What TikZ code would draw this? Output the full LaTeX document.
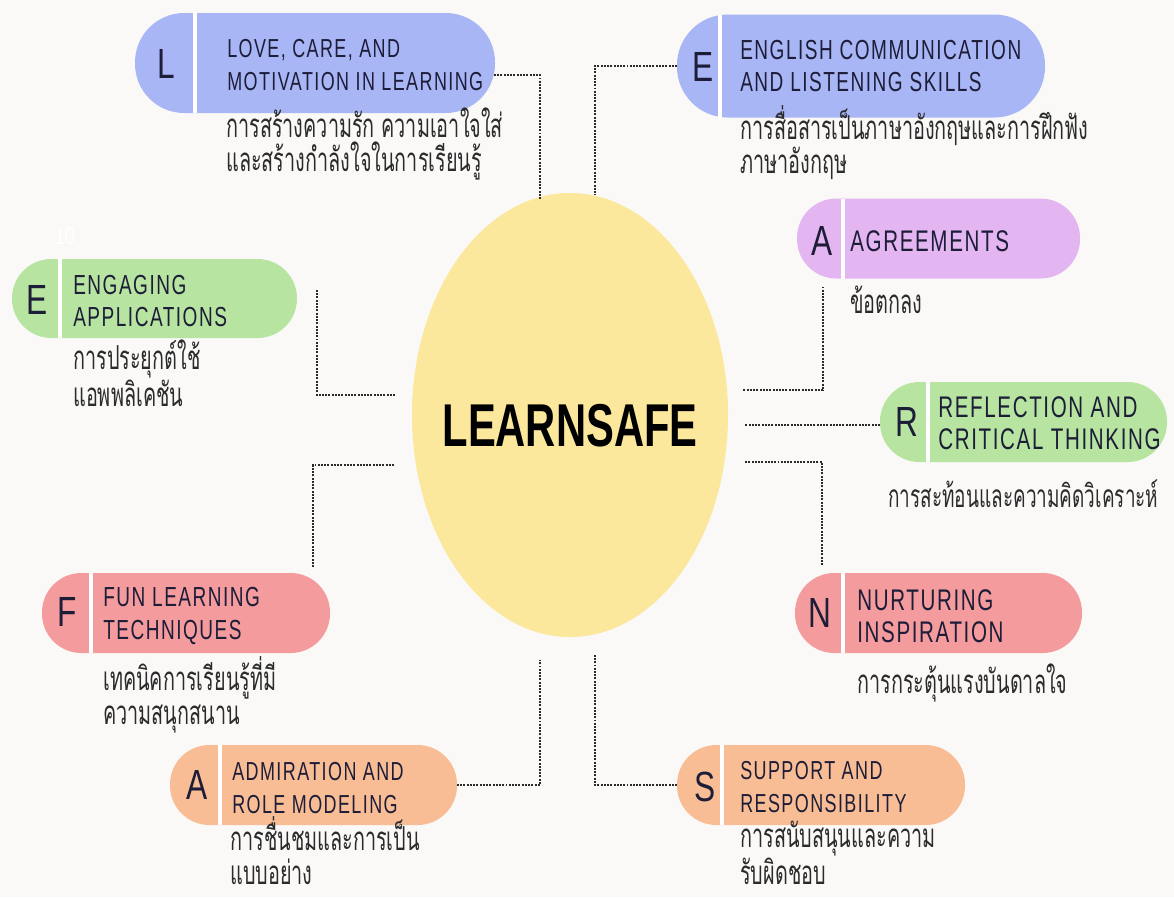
\documentclass[tikz,border=0pt]{standalone}
\usepackage{fontspec}
\usepackage{xcolor}
\usetikzlibrary{positioning, shapes.geometric, calc}

\newfontfamily\pillfont[FakeStretch=0.69, LetterSpace=5.5]{Liberation Sans}
\newfontfamily\initfont[FakeStretch=0.75]{Liberation Sans}
\newfontfamily\corefont[FakeStretch=0.69]{Liberation Sans}
\newfontfamily\thaifont[Script=Thai, FakeStretch=0.6]{Loma}

\definecolor{paper}{HTML}{FAF9F7}
\definecolor{sunny}{HTML}{FCE89C}
\definecolor{lavender}{HTML}{A9B6F6}
\definecolor{orchid}{HTML}{E3B6F2}
\definecolor{mint}{HTML}{B7E5A1}
\definecolor{blush}{HTML}{F49B9E}
\definecolor{apricot}{HTML}{F8BD95}
\definecolor{ink}{HTML}{1D1D38}
\definecolor{thaiink}{HTML}{2B2B2B}
\definecolor{linkgray}{HTML}{2A2A2A}

\newdimen\pxunit
\pxunit=0.025cm

\begin{document}
\begin{tikzpicture}[x=0.025cm, y=-0.025cm,
	pill/.style={rectangle, rounded corners=28pt, inner sep=0pt, outer sep=0pt, minimum width=287\pxunit, minimum height=80\pxunit},
	divider/.style={draw=white, line width=2.2pt},
	initial/.style={inner sep=0pt, text=ink, font=\initfont\fontsize{30}{30}\selectfont},
	pilltext/.style={anchor=west, align=left, inner sep=0pt, text=ink, font=\pillfont\fontsize{#1}{23}\selectfont},
	thai/.style={anchor=base west, align=left, inner sep=0pt, text=thaiink, font=\thaifont\fontsize{23.5}{23.5}\selectfont},
	link/.style={draw=linkgray, line width=1.6pt, dash pattern=on 1.4pt off 0.9pt}]
	% Background
	\useasboundingbox (0,0) rectangle (1174,897);
	\fill[paper] (0,0) rectangle (1174,897);
	
	% Core
	\node[ellipse, fill=sunny, inner sep=0pt, minimum width=316\pxunit, minimum height=444\pxunit] (core) at (570,415) {};
	\node[anchor=base, inner sep=0pt, font=\corefont\bfseries\fontsize{43}{43}\selectfont] (coretitle) at (570,446) {LEARNSAFE};
	
	% Pills, left column
	\node[pill, fill=lavender, minimum width=360\pxunit, minimum height=100\pxunit, rounded corners=35pt] (love) at (315,63) {};
	\draw[divider] ($(love.north west)+(60,0)$) -- ($(love.south west)+(60,0)$);
	\node[initial] (loveinit) at (166,64) {L};
	\node[pilltext=18.5] (lovetext) at (227,65) {LOVE, CARE, AND\\MOTIVATION IN LEARNING};
	\node[thai] (lovethai) at (226,171) {การสร้างความรัก ความเอาใจใส่\\และสร้างกำลังใจในการเรียนรู้};
	
	\node[white, inner sep=0pt, font=\initfont\fontsize{17}{17}\selectfont] (pagenum) at (65,236) {10};
	
	\node[pill, fill=mint, minimum width=285\pxunit, minimum height=79\pxunit] (engage) at (154.5,298.5) {};
	\draw[divider] ($(engage.north west)+(48,0)$) -- ($(engage.south west)+(48,0)$);
	\node[initial] (engageinit) at (37,300) {E};
	\node[pilltext=19.6] (engagetext) at (73,301) {ENGAGING\\APPLICATIONS};
	\node[thai] (engagethai) at (73,406) {การประยุกต์ใช้\\แอพพลิเคชัน};
	
	\node[pill, fill=blush, minimum width=288\pxunit] (fun) at (186,613) {};
	\draw[divider] ($(fun.north west)+(49,0)$) -- ($(fun.south west)+(49,0)$);
	\node[initial] (funinit) at (67,612) {F};
	\node[pilltext=19.6] (funtext) at (103,616) {FUN LEARNING\\TECHNIQUES};
	\node[thai] (funthai) at (103,724) {เทคนิคการเรียนรู้ที่มี\\ความสนุกสนาน};
	
	\node[pill, fill=apricot] (admire) at (313.5,785) {};
	\draw[divider] ($(admire.north west)+(50,0)$) -- ($(admire.south west)+(50,0)$);
	\node[initial] (admireinit) at (197,785) {A};
	\node[pilltext=18.5] (admiretext) at (232,788) {ADMIRATION AND\\ROLE MODELING};
	\node[thai] (admirethai) at (230,884) {การชื่นชมและการเป็น\\แบบอย่าง};
	
	% Pills, right column
	\node[pill, fill=lavender, minimum width=368\pxunit, minimum height=103\pxunit, rounded corners=36pt] (english) at (861,66) {};
	\draw[divider] ($(english.north west)+(43,0)$) -- ($(english.south west)+(43,0)$);
	\node[initial] (englishinit) at (703,67) {E};
	\node[pilltext=19.6] (englishtext) at (740,66) {ENGLISH COMMUNICATION\\AND LISTENING SKILLS};
	\node[thai] (englishthai) at (740,173) {การสื่อสารเป็นภาษาอังกฤษและการฝึกฟัง\\ภาษาอังกฤษ};
	
	\node[pill, fill=orchid, minimum width=283\pxunit] (agree) at (938.5,238.5) {};
	\draw[divider] ($(agree.north west)+(46,0)$) -- ($(agree.south west)+(46,0)$);
	\node[initial] (agreeinit) at (822,241) {A};
	\node[pilltext=21.2] (agreetext) at (850,241) {AGREEMENTS};
	\node[thai] (agreethai) at (850,313) {ข้อตกลง};
	
	\node[pill, fill=mint] (reflect) at (1023.5,422) {};
	\draw[divider] ($(reflect.north west)+(48,0)$) -- ($(reflect.south west)+(48,0)$);
	\node[initial] (reflectinit) at (907,422) {R};
	\node[pilltext=21.2] (reflecttext) at (938,423) {REFLECTION AND\\CRITICAL THINKING};
	\node[thai, font=\thaifont\fontsize{22.5}{23.5}\selectfont] (reflectthai) at (888,507) {การสะท้อนและความคิดวิเคราะห์};
	
	\node[pill, fill=blush] (nurture) at (938.5,613) {};
	\draw[divider] ($(nurture.north west)+(48,0)$) -- ($(nurture.south west)+(48,0)$);
	\node[initial] (nurtureinit) at (820,613) {N};
	\node[pilltext=21.2] (nurturetext) at (857,616) {NURTURING\\INSPIRATION};
	\node[thai] (nurturethai) at (857,693) {การกระตุ้นแรงบันดาลใจ};
	
	\node[pill, fill=apricot, minimum width=288\pxunit] (support) at (821,785) {};
	\draw[divider] ($(support.north west)+(45,0)$) -- ($(support.south west)+(45,0)$);
	\node[initial] (supportinit) at (705,787) {S};
	\node[pilltext=18.5] (supporttext) at (740,787) {SUPPORT AND\\RESPONSIBILITY};
	\node[thai] (supportthai) at (740,884) {การสนับสนุนและความ\\รับผิดชอบ};
	
	% Links
	\coordinate (loveend) at (540,200);
	\coordinate (englishend) at (595,195);
	\coordinate (agreeend) at (743,390);
	\coordinate (reflectend) at (745,425);
	\coordinate (nurtureend) at (745,462);
	\coordinate (supportend) at (595,655);
	\coordinate (admireend) at (540,660);
	\coordinate (funend) at (395,465);
	\coordinate (engageend) at (395,395);
	
	\draw[link] ($(love.east)+(-1,12)$) -| (loveend);
	\draw[link] (english.west) -| (englishend);
	\draw[link] ($(agree.south west)+(26,8)$) |- (agreeend);
	\draw[link] (reflectend -| reflect.west) -- (reflectend);
	\draw[link] ($(nurture.north west)+(27,-8)$) |- (nurtureend);
	\draw[link] (support.west) -| (supportend);
	\draw[link] (admire.east) -| (admireend);
	\draw[link] ($(fun.north east)+(-17,-6)$) |- (funend);
	\draw[link] ($(engage.north east)+(20,31)$) |- (engageend);
\end{tikzpicture}
\end{document}
